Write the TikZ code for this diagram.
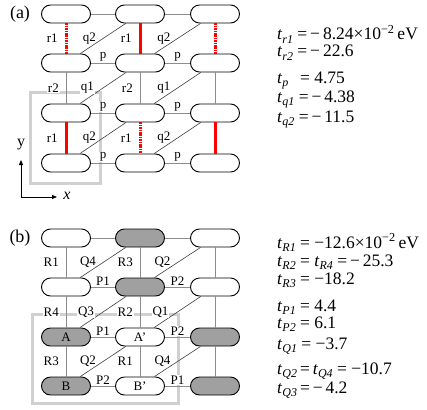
\documentclass[tikz,border=0pt]{standalone}
\usepackage{fontspec}
\setmainfont{Liberation Serif}
\usepackage{tikz}
\usetikzlibrary{arrows.meta}
\definecolor{HopRed}{HTML}{FF0000}
\definecolor{HopGray}{HTML}{8C8C8C}
\definecolor{CellGray}{HTML}{D0D0D0}
\definecolor{SiteGray}{HTML}{A0A0A0}
\newcommand{\hopt}[1]{\textit{t}\raisebox{-0.4ex}{\fontsize{12}{12}\selectfont\textit{#1}}}

\begin{document}
\begin{tikzpicture}[x=1pt,y=-1pt,
        every node/.style={font=\fontsize{13}{13}\selectfont},
        site/.style={draw,line width=0.9pt,rounded corners=9pt,minimum width=49pt,minimum height=18pt,inner sep=0pt,fill=white},
        dark/.style={site,fill=SiteGray},
        bond/.style={draw=HopGray,line width=0.8pt},
        diag/.style={draw=black!75,line width=0.6pt},
        strong/.style={draw=HopRed,line width=3pt},
        weak/.style={draw=HopRed,line width=3pt,dash pattern=on 1.6pt off 0.8pt},
        lbl/.style={inner sep=0.8pt},
        cut/.style={lbl,fill=white},
        cell/.style={draw=CellGray,line width=3pt},
        eq/.style={anchor=base west,inner sep=0pt,font=\fontsize{17.5}{17.5}\selectfont},
        axis/.style={-{Triangle[length=5pt,width=4pt]},line width=0.8pt}
      ]
      \useasboundingbox (0,0) rectangle (427,409);

      % (a)
      \node (la) at (20,14) {\fontsize{18}{18}\selectfont(a)};
      \foreach \r/\y in {1/14,2/63,3/113,4/163}
        \foreach \c/\x in {1/66,2/140,3/215}
          \node[site] (a\r\c) at (\x,\y) {};
      \draw[cell] (30,92) rectangle (100,183);

      \draw[bond] (a11) -- (a12);
      \draw[bond] (a12) -- (a13);
      \foreach \r in {2,3,4}
        \draw[bond] (a\r2) -- node[lbl,above=0.5pt] {p} (a\r3);
      \draw[bond] (a21) -- node[lbl,above=0.5pt] {p} (a22);
      \draw[bond] (a31) -- node[cut,above=0.5pt] {p} (a32);
      \draw[bond] (a41) -- node[cut,above=0.5pt] {p} (a42);

      \draw[weak] (a11) -- node[lbl,left=6pt] {r1} (a21);
      \draw[strong] (a12) -- node[lbl,left=6pt] {r1} (a22);
      \draw[weak] (a13) -- (a23);
      \draw[bond] (a21) -- node[cut,left=6pt] {r2} (a31);
      \draw[bond] (a22) -- node[lbl,left=6pt] {r2} (a32);
      \draw[bond] (a23) -- (a33);
      \draw[strong] (a31) -- node[lbl,left=6pt] {r1} (a41);
      \draw[weak] (a32) -- node[lbl,left=6pt] {r1} (a42);
      \draw[strong] (a33) -- (a43);

      \draw[diag] (a21) -- node[lbl,left=6pt] {q2} (a12);
      \draw[diag] (a22) -- node[lbl,left=6pt] {q2} (a13);
      \draw[diag] (a31) -- node[cut,left=8pt] {q1} (a22);
      \draw[diag] (a32) -- node[lbl,left=6pt] {q1} (a23);
      \draw[diag] (a41) -- node[lbl,left=6pt] {q2} (a32);
      \draw[diag] (a42) -- node[lbl,left=6pt] {q2} (a33);

      \coordinate (org) at (21,197);
      \coordinate (yend) at (21,160);
      \coordinate (xend) at (57,197);
      \draw[axis] (org) -- (yend);
      \draw[axis] (org) -- (xend);
      \node (ylab) at (21,145) {\fontsize{16}{16}\selectfont y};
      \node (xlab) at (67,196) {\fontsize{16}{16}\selectfont\textit{x}};

      \node[eq] (tr1) at (277,40) {\hopt{r1}\ =\,−\,8.24×10\textsuperscript{−2}\,eV};
      \node[eq] (tr2) at (277,57) {\hopt{r2}\ =\,−\,22.6};
      \node[eq] (tp)  at (277,83) {\hopt{p}\ \ \,=\ 4.75};
      \node[eq] (tq1) at (277,102) {\hopt{q1}\ =\,−\,4.38};
      \node[eq] (tq2) at (277,122) {\hopt{q2}\ =\,−\,11.5};

      % (b)
      \node (lb) at (20,238) {\fontsize{18}{18}\selectfont(b)};
      \node[site] (b11) at (66,238) {};
      \node[dark] (b12) at (140,238) {};
      \node[site] (b13) at (215,238) {};
      \node[site] (b21) at (66,287) {};
      \node[dark] (b22) at (140,287) {};
      \node[site] (b23) at (215,287) {};
      \node[dark] (b31) at (66,337) {A};
      \node[site] (b32) at (140,337) {A'};
      \node[dark] (b33) at (215,337) {};
      \node[dark] (b41) at (66,386) {B};
      \node[site] (b42) at (140,386) {B'};
      \node[dark] (b43) at (215,386) {};
      \draw[cell] (32,314) rectangle (178,403);

      \draw[bond] (b11) -- (b12);
      \draw[bond] (b12) -- (b13);
      \draw[bond] (b21) -- node[lbl,above=0.5pt] {P1} (b22);
      \draw[bond] (b22) -- node[lbl,above=0.5pt] {P2} (b23);
      \draw[bond] (b31) -- node[lbl,above=0.5pt] {P1} (b32);
      \draw[bond] (b32) -- node[cut,above=0.5pt] {P2} (b33);
      \draw[bond] (b41) -- node[lbl,above=0.5pt] {P2} (b42);
      \draw[bond] (b42) -- node[cut,above=0.5pt] {P1} (b43);

      \draw[bond] (b11) -- node[lbl,left=6pt] {R1} (b21);
      \draw[bond] (b12) -- node[lbl,left=6pt] {R3} (b22);
      \draw[bond] (b13) -- (b23);
      \draw[bond] (b21) -- node[cut,left=6pt] {R4} (b31);
      \draw[bond] (b22) -- node[cut,left=6pt] {R2} (b32);
      \draw[bond] (b23) -- (b33);
      \draw[bond] (b31) -- node[lbl,left=6pt] {R3} (b41);
      \draw[bond] (b32) -- node[lbl,left=6pt] {R1} (b42);
      \draw[bond] (b33) -- (b43);

      \draw[diag] (b21) -- node[lbl,left=6pt] {Q4} (b12);
      \draw[diag] (b22) -- node[lbl,left=6pt] {Q2} (b13);
      \draw[diag] (b31) -- node[cut,left=8pt] {Q3} (b22);
      \draw[diag] (b32) -- node[cut,left=8pt] {Q1} (b23);
      \draw[diag] (b41) -- node[lbl,left=6pt] {Q2} (b32);
      \draw[diag] (b42) -- node[lbl,left=6pt] {Q4} (b33);

      \node[eq] (tR1) at (277,248) {\hopt{R1}\ =\ −12.6×10\textsuperscript{−2}\,eV};
      \node[eq] (tR2) at (277,266) {\hopt{R2}\ =\ \hopt{R4}\ =\,−\,25.3};
      \node[eq] (tR3) at (277,284) {\hopt{R3}\ =\ −18.2};
      \node[eq] (tP1) at (277,311) {\hopt{P1}\ =\ 4.4};
      \node[eq] (tP2) at (277,328) {\hopt{P2}\ =\ 6.1};
      \node[eq] (tQ1) at (277,349) {\hopt{Q1}\ =\ −3.7};
      \node[eq] (tQ2) at (277,374) {\hopt{Q2}\,=\,\hopt{Q4}\ =\ −10.7};
      \node[eq] (tQ3) at (277,393) {\hopt{Q3}\,=\,−\,4.2};
    \end{tikzpicture}
\end{document}
